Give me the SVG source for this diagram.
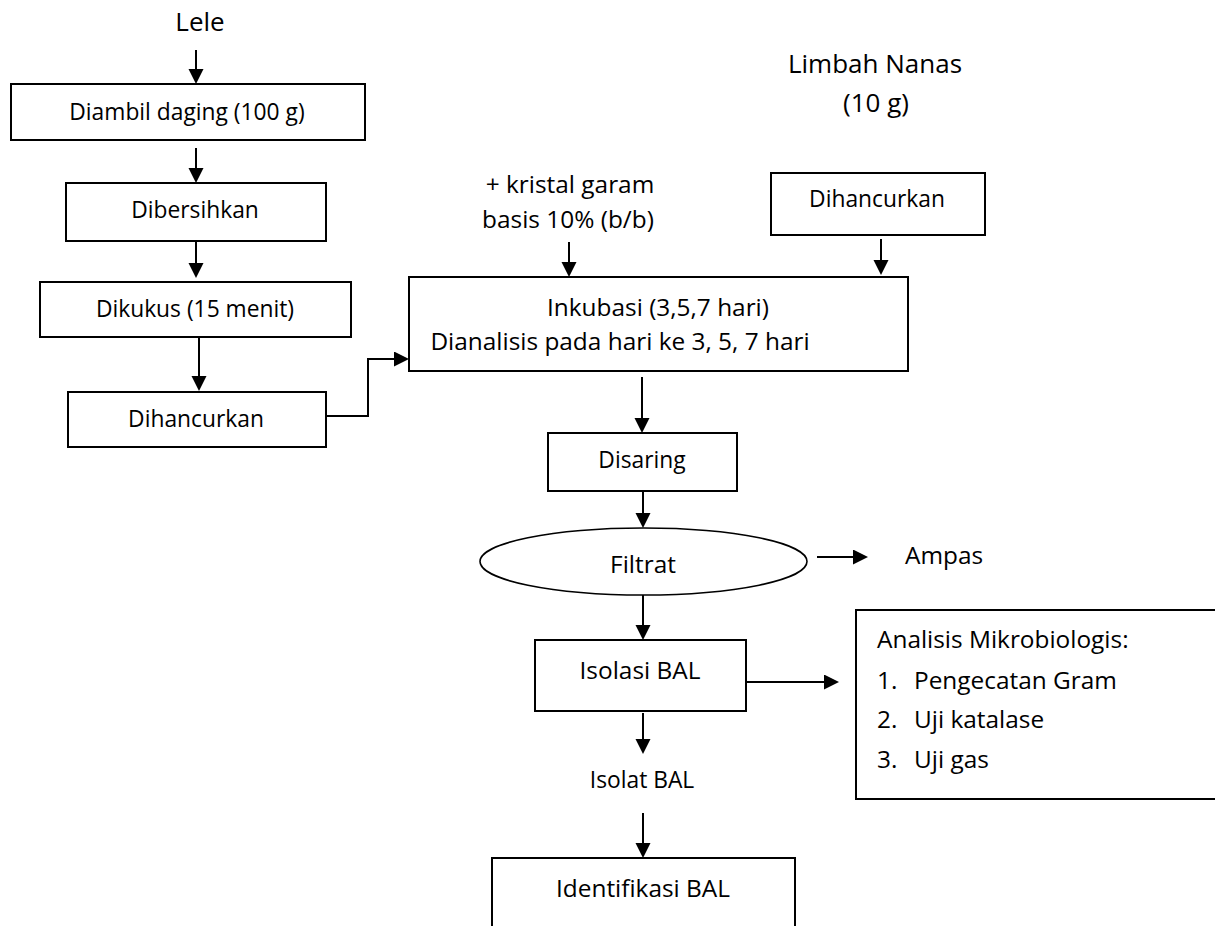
<svg xmlns="http://www.w3.org/2000/svg" width="1215" height="926" viewBox="0 0 1215 926">
<defs>
<style>
text{font-family:"Open Sans","Noto Sans","DejaVu Sans",sans-serif;fill:#000}
.s{font-size:22.8px}
.m{font-size:24.4px}
.l{font-size:26px}
.c{text-anchor:middle}
rect,ellipse{fill:#fff;stroke:#000;stroke-width:2}
ellipse{stroke-width:1.6}
.cn path{fill:none;stroke:#000;stroke-width:2;marker-end:url(#ah)}
</style>
<marker id="ah" markerUnits="userSpaceOnUse" markerWidth="16" markerHeight="16" refX="5" refY="7.5" orient="auto">
<path d="M0,0 L15,7.5 L0,15 Z" fill="#000"/>
</marker>
</defs>
<rect x="0" y="0" width="1215" height="926" style="fill:#fff;stroke:none"/>

<g id="lele"><text class="l c" x="200" y="31">Lele</text></g>
<g id="diambil"><rect x="11" y="84" width="354" height="56"/><text class="s c" x="187" y="120">Diambil daging (100 g)</text></g>
<g id="dibersihkan"><rect x="66" y="183" width="260" height="58"/><text class="s c" x="195" y="218">Dibersihkan</text></g>
<g id="dikukus"><rect x="40" y="282" width="311" height="55"/><text class="s c" x="195" y="317">Dikukus (15 menit)</text></g>
<g id="dihancurkan1"><rect x="68" y="392" width="258" height="55"/><text class="s c" x="196" y="427">Dihancurkan</text></g>

<g id="garam"><text class="m c" x="570" y="193">+ kristal garam</text><text class="m c" x="568" y="228">basis 10% (b/b)</text></g>
<g id="limbah"><text class="l c" x="875" y="73">Limbah Nanas</text><text class="l c" x="876" y="112">(10 g)</text></g>
<g id="dihancurkan2"><rect x="771" y="173" width="214" height="62"/><text class="s c" x="877" y="207">Dihancurkan</text></g>
<g id="inkubasi"><rect x="409" y="277" width="499" height="94"/><text class="m c" x="658" y="316">Inkubasi (3,5,7 hari)</text><text class="m c" x="620" y="350">Dianalisis pada hari ke 3, 5, 7 hari</text></g>
<g id="disaring"><rect x="548" y="433" width="189" height="58"/><text class="s c" x="642" y="468">Disaring</text></g>
<g id="filtrat"><ellipse cx="643.5" cy="561.5" rx="163.5" ry="33.5"/><text class="m c" x="643" y="573">Filtrat</text></g>
<g id="ampas"><text class="m" x="905" y="564">Ampas</text></g>
<g id="isolasi"><rect x="535" y="640" width="211" height="71"/><text class="m c" x="640" y="679">Isolasi BAL</text></g>
<g id="analisis"><rect x="856" y="610" width="370" height="189"/>
<text class="m" x="877" y="648">Analisis Mikrobiologis:</text>
<text class="m" x="877" y="689">1.</text><text class="m" x="914" y="689">Pengecatan Gram</text>
<text class="m" x="877" y="728">2.</text><text class="m" x="914" y="728">Uji katalase</text>
<text class="m" x="877" y="768">3.</text><text class="m" x="914" y="768">Uji gas</text>
</g>
<g id="isolat"><text class="s c" x="642" y="788">Isolat BAL</text></g>
<g id="identifikasi"><rect x="492" y="858" width="303" height="80"/><text class="m c" x="643" y="897">Identifikasi BAL</text></g>

<g id="connectors" class="cn">
<path d="M196,50 V74"/>
<path d="M196,148 V173"/>
<path d="M196,242 V268"/>
<path d="M199,337 V381"/>
<path d="M326,416 H368 V359 H399"/>
<path d="M569,242 V267"/>
<path d="M881,239 V265"/>
<path d="M642,377 V423"/>
<path d="M643,491 V518"/>
<path d="M643,595 V630"/>
<path d="M746,682 H829"/>
<path d="M817,557 H858"/>
<path d="M643,713 V744"/>
<path d="M643,813 V848"/>
</g>
</svg>
